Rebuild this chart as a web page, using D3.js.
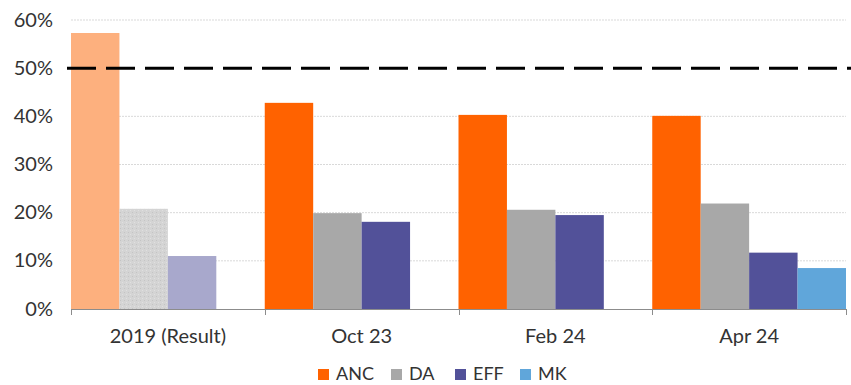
<!DOCTYPE html>
<html><head><meta charset="utf-8">
<script src="https://cdn.jsdelivr.net/npm/d3@7"></script>
<style>body{margin:0;background:#fff;}svg{display:block;font-family:Lato,"Open Sans",sans-serif;}</style>
</head><body><svg id="c" width="851" height="385"></svg>
<script>
const categories = ["2019 (Result)", "Oct 23", "Feb 24", "Apr 24"];
const seriesNames = ["ANC", "DA", "EFF", "MK"];
const ANC = [57.3, 42.8, 40.3, 40.1];
const DA  = [20.8, 19.9, 20.6, 21.9];
const EFF = [11.0, 18.1, 19.5, 11.7];
const MK  = [null, null, null, 8.5];
const yTicks = [0, 10, 20, 30, 40, 50, 60];
const threshold = 50;

const colors = {ANC:"#FF6200", DA:"#A8A8A8", EFF:"#525199", MK:"#60A6DA"};
const fadedColors = {ANC:"#FDB07E", DA:"#D2D2D2", EFF:"#A8A8CC", MK:"#B0D2EC"};
const values = {ANC, DA, EFF, MK};

const svg = d3.select("#c");
const m = {l:71, r:5, t:20, b:76};
const W = 851, H = 385;
const x0 = d3.scaleBand().domain(categories).range([m.l, W - m.r]).padding(0);
const x1 = d3.scaleBand().domain(seriesNames).range([0, x0.bandwidth()]).padding(0);
const y = d3.scaleLinear().domain([0, 60]).range([H - m.b, m.t]);

const defs = svg.append("defs");
const pat = defs.append("pattern").attr("id","speck").attr("width",4).attr("height",4).attr("patternUnits","userSpaceOnUse");
pat.append("rect").attr("width",4).attr("height",4).attr("fill","#D4D4D4");
pat.append("rect").attr("x",0).attr("y",0).attr("width",1).attr("height",1).attr("fill","#C4C4C4");
pat.append("rect").attr("x",2).attr("y",2).attr("width",1).attr("height",1).attr("fill","#E0E0E0");

// gridlines
svg.append("g").selectAll("line").data(yTicks.filter(d => d > 0 && d !== threshold)).join("line")
  .attr("x1", m.l).attr("x2", W - m.r)
  .attr("y1", d => y(d)).attr("y2", d => y(d))
  .attr("stroke", "#D9D9D9").attr("stroke-width", 1).attr("stroke-dasharray", "2,1");

// y labels
svg.append("g").selectAll("text").data(yTicks).join("text")
  .attr("x", 53).attr("y", d => y(d)).attr("dy", "0.33em")
  .attr("text-anchor", "end").attr("font-size", 20).attr("fill", "#333")
  .text(d => d + "%");

// bars
const g = svg.append("g");
categories.forEach((cat, i) => {
  seriesNames.forEach(s => {
    const v = values[s][i];
    if (v == null) return;
    let fill = i === 0 ? fadedColors[s] : colors[s];
    if (i === 0 && s === "DA") fill = "url(#speck)";
    g.append("rect")
      .attr("x", x0(cat) + x1(s))
      .attr("y", y(v))
      .attr("width", x1.bandwidth())
      .attr("height", y(0) - y(v))
      .attr("fill", fill);
  });
});

// x axis
const axisY = y(0);
svg.append("line").attr("x1", m.l).attr("x2", W - m.r).attr("y1", axisY + 0.5).attr("y2", axisY + 0.5)
  .attr("stroke", "#8C8C8C").attr("stroke-width", 1.2);
const bounds = categories.map(c => x0(c)).concat([x0(categories[categories.length-1]) + x0.bandwidth()]);
svg.append("g").selectAll("line").data(bounds).join("line")
  .attr("x1", d => Math.round(d) + 0.5).attr("x2", d => Math.round(d) + 0.5)
  .attr("y1", axisY).attr("y2", axisY + 6).attr("stroke", "#8C8C8C");
svg.append("g").selectAll("text").data(categories).join("text")
  .attr("x", d => x0(d) + x0.bandwidth() / 2).attr("y", 343)
  .attr("text-anchor", "middle").attr("font-size", 20).attr("fill", "#333")
  .text(d => d);

// threshold line
svg.append("line").attr("x1", 67).attr("x2", W).attr("y1", y(threshold)).attr("y2", y(threshold))
  .attr("stroke", "#000").attr("stroke-width", 3).attr("stroke-dasharray", "29,10");

// legend
const legX = [318, 391, 455, 520];
const lg = svg.append("g");
seriesNames.forEach((s, i) => {
  lg.append("rect").attr("x", legX[i]).attr("y", 369).attr("width", 11).attr("height", 11).attr("fill", colors[s]);
  lg.append("text").attr("x", legX[i] + 18).attr("y", 380)
    .attr("font-size", 18).attr("fill", "#333").text(s);
});
</script></body></html>
